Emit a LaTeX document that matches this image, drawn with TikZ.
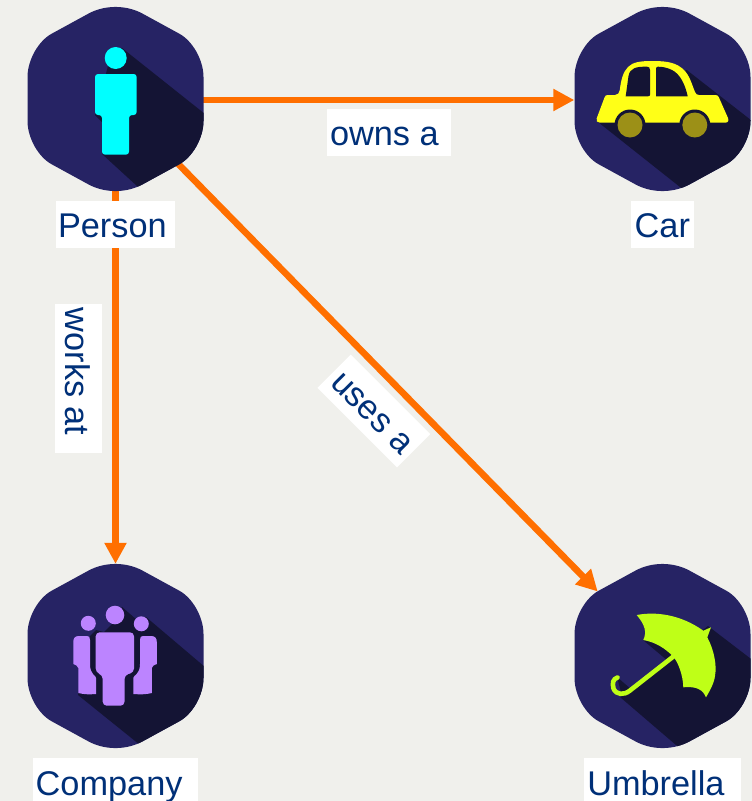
\documentclass[tikz,border=0pt]{standalone}
\usepackage{fontspec}
\setmainfont{Liberation Sans}
\usetikzlibrary{arrows.meta}
\definecolor{bgc}{HTML}{F0F0EC}
\definecolor{hexc}{HTML}{262364}
\definecolor{shadc}{HTML}{141434}
\definecolor{linec}{HTML}{FF6F00}
\definecolor{textc}{HTML}{003078}
\definecolor{personc}{HTML}{00FFFF}
\definecolor{carc}{HTML}{FFFF17}
\definecolor{wheelc}{HTML}{9C9017}
\definecolor{groupc}{HTML}{BC84FF}
\definecolor{umbc}{HTML}{BFFF17}
\newcommand\hexoutline{(88,-22)--(88,22) .. controls (88,38.8) and (77.2,58) .. (63.8,65.3) -- (27.2,85.3) .. controls (10.8,94.3) and (-10.8,94.3) .. (-27.2,85.3) -- (-63.8,65.3) .. controls (-77.2,58) and (-88,38.8) .. (-88,22) -- (-88,-22) .. controls (-88,-38.8) and (-77.2,-58) .. (-63.8,-65.3) -- (-27.2,-85.3) .. controls (-10.8,-94.3) and (10.8,-94.3) .. (27.2,-85.3) -- (63.8,-65.3) .. controls (77.2,-58) and (88,-38.8) .. (88,-22) -- cycle}
\newcommand\hexfill[2]{\fill[hexc,shift={(#1,#2)}] \hexoutline;}
\newcommand\hexclip[2]{\clip[shift={(#1,#2)}] \hexoutline;}
\newcommand\labtext[3]{\hspace*{#1pt}#2\hspace*{#3pt}}
\tikzset{
  anchorbox/.style={rectangle,minimum width=176pt,minimum height=184pt,inner sep=0pt},
  rel/.style={draw=linec,line width=6.6pt,-{Triangle[length=21pt,width=21pt]}},
  lab/.style={fill=white,text=textc,font=\fontsize{34.3}{40}\selectfont,inner xsep=0pt,inner ysep=3pt,text height=33pt,text depth=8pt},
  lablow/.style={lab,text height=34.5pt,text depth=6.5pt},
  shad/.style={fill=shadc},
}
\begin{document}
\begin{tikzpicture}[x=1pt,y=-1pt]
\useasboundingbox (0,0) rectangle (752,801);
\clip (0,0) rectangle (752,801);
\fill[bgc] (0,0) rectangle (752,801);
% anchors
\node[anchorbox] (person) at (115.5,100) {};
\node[anchorbox] (car) at (662.5,100) {};
\node[anchorbox] (company) at (115.5,656) {};
\node[anchorbox] (umbrella) at (662.5,656) {};
\coordinate (usetip) at (597.7,591.5);
% connectors
\draw[rel] (person.center) -- (company.north);
\draw[rel] (person.center) -- (car.west);
\draw[rel] (person.center) -- (usetip);
% hexagons
\hexfill{115.5}{99}
\hexfill{662.5}{99}
\hexfill{115.5}{656}
\hexfill{662.5}{656}
% person
\begin{scope}
\hexclip{115.5}{99}
\fill[shad] (122,48)--(215,122)--(215,240)--(137,186)--(102,154)--(102,122)--(95,115)--(108,66)--cycle;
\end{scope}
\fill[personc] (115.7,58) circle (11);
\fill[personc,rounded corners=3pt] (115.7,74)--(136.7,74)--(136.7,115)--(129,115)--(129,154.7)--(102,154.7)--(102,115)--(95,115)--(95,74)--cycle;
% car
\begin{scope}
\hexclip{662.5}{99}
\fill[shad] (598,122)--(640,90)--(686.7,70)--(765,131)--(765,270)--(680,187)--cycle;
\end{scope}
\fill[carc] (596.7,118.3)--(604.5,97.5) .. controls (605.2,95.6) and (606,95) .. (608,95)--(615,95)
  .. controls (618,95) and (619.3,93) .. (619.8,90)
  .. controls (621,80) and (623,72) .. (628,67)
  .. controls (633,62) and (640,61) .. (653,61)
  .. controls (668,61) and (677,63) .. (684,70)
  .. controls (690,76) and (692,85) .. (695,92)
  .. controls (695.8,94) and (697,95) .. (699,95)--(715,95)
  .. controls (717,95) and (718,95.5) .. (718.7,97)--(728,118)
  .. controls (729,121) and (728,122.7) .. (725,122.7)--(600,122.7)
  .. controls (597,122.7) and (596,121) .. (596.7,118.3)--cycle;
\fill[shadc] (625.7,96.3)--(648,96.3) .. controls (649.5,96.3) and (650,95.8) .. (650,94.5)--(650,70)
  .. controls (650,67.5) and (649,66.7) .. (647,66.7)
  .. controls (636,66.5) and (630,68) .. (628.5,76)--cycle;
\fill[shadc] (656,96.3)--(687.7,96.3) .. controls (685,84) and (680,74) .. (672,70)
  .. controls (667,67.5) and (662,66.7) .. (658,66.7)
  .. controls (656.5,66.7) and (656,67.5) .. (656,69)--cycle;
\fill[shadc] (630,125) circle (15.5);
\fill[shadc] (694.8,125) circle (15.5);
\fill[wheelc] (630,125) circle (12.5);
\fill[wheelc] (694.8,125) circle (12.5);
% company
\begin{scope}
\hexclip{115.5}{656}
\fill[shad] (122,607)--(137,620)--(146,617)--(212,673)--(212,770)--(150,753)--(78,695)--(90,636)--(96,630)--(104,632)--(112,624)--cycle;
\end{scope}
\fill[groupc] (115,615) circle (9.3);
\fill[groupc] (88.3,623.3) circle (7.5);
\fill[groupc] (141.3,623.8) circle (7.5);
\fill[groupc,rounded corners=4pt] (115,632.3)--(134,632.3)--(134,672.5)--(124.5,675)--(124.5,705.7)--(102.7,705.7)--(102.7,675)--(95.7,672.5)--(95.7,632.3)--cycle;
\fill[groupc] (79,636) .. controls (75,636) and (73.3,638) .. (73.3,642)--(73.3,664) .. controls (75,665.5) and (78.3,665) .. (78.3,668)--(78.3,693) .. controls (84,694.5) and (90,694.5) .. (96,694)--(96,678) .. controls (96,675) and (90,675) .. (90,664)--(90,640) .. controls (90,637) and (89,636) .. (87,636)--cycle;
\fill[groupc] (151,636) .. controls (155,636) and (156.8,638) .. (156.8,642)--(156.8,664) .. controls (155,665.5) and (151.8,665) .. (151.8,668)--(151.8,693) .. controls (146,694.5) and (140,694.5) .. (133.3,694)--(133.3,678) .. controls (133.3,675) and (140,675) .. (140,664)--(140,640) .. controls (140,637) and (141,636) .. (143,636)--cycle;
% umbrella
\begin{scope}
\hexclip{662.5}{656}
\fill[shad] (708,626)--(755,662)--(755,800)--(676,745)--(620,697)--(630,691)--(672,657)--(690,640)--cycle;
\fill[shad] (643,640)--(668,661)--(677,655)--(660,645)--cycle;
\fill[shad] (617,677)--(632,690)--(622,696)--cycle;
\end{scope}
\draw[umbc,line width=4.6pt,line cap=round] (674,656) -- (630,690.5) .. controls (624,695.5) and (616,695) .. (613.5,688.5) .. controls (612,683) and (613,679) .. (617.5,677.5);
\fill[umbc] (636.7,615) .. controls (655,611.5) and (680,614) .. (703.3,630.7)--(711,627.3)--(707.3,637.3)
  .. controls (714,650) and (717,665) .. (715,676) .. controls (714,684) and (709,692) .. (706,697.3)
  .. controls (703,690) and (697,686) .. (683.3,687.3)
  .. controls (683,675) and (678,662) .. (673.3,656.7)
  .. controls (665,648) and (655,642) .. (643.3,640)
  .. controls (647,632) and (645,625) .. (636.7,615)--cycle;
% labels
\node[lab] (lperson) at (115.3,224.6) {\labtext{2.4}{Person}{8.3}};
\node[lab] (lcar) at (662.5,224.6) {\labtext{3.7}{Car}{4}};
\node[lablow] (lcompany) at (115.2,781.8) {\labtext{3}{Company}{15.2}};
\node[lablow] (lumbrella) at (662.5,781.8) {\labtext{3.3}{Umbrella}{16.5}};
\node[lab] (lowns) at (389,132.5) {\labtext{3}{owns a}{12.3}};
\node[lab,rotate=-90] (lworks) at (78.3,378.7) {\labtext{3.7}{works at}{17.8}};
\node[lab,rotate=-45] (luses) at (373.8,411) {\labtext{5.7}{uses a}{5.6}};
\end{tikzpicture}
\end{document}
